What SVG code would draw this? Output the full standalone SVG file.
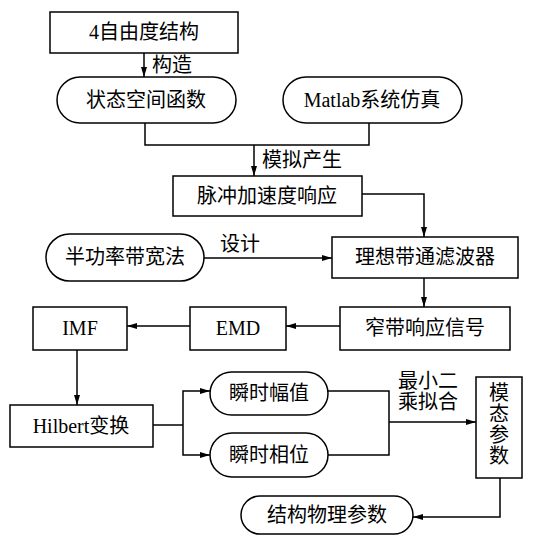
<svg xmlns="http://www.w3.org/2000/svg" width="539" height="536" viewBox="0 0 539 536">
<style>
.n{fill:#fff;stroke:#000;stroke-width:1.5}
.t{font-family:"Liberation Serif","Noto Sans CJK SC",serif;font-size:20px;fill:#000;text-anchor:middle}
.l{font-family:"Liberation Serif","Noto Sans CJK SC",serif;font-size:20px;fill:#000}
.c{fill:none;stroke:#000;stroke-width:1.5}
</style>
<defs>
<marker id="a" viewBox="0 0 10 6" refX="10" refY="3" markerWidth="10" markerHeight="6" markerUnits="userSpaceOnUse" orient="auto">
<path d="M0,0L10,3L0,6z" fill="#000"/>
</marker>
</defs>
<rect width="539" height="536" fill="#fff"/>
<g id="connectors">
<path class="c" d="M144,53V77" marker-end="url(#a)"/>
<path class="c" d="M145,123V145H369V123"/>
<path class="c" d="M254,145V176" marker-end="url(#a)"/>
<path class="c" d="M362,194H424V237" marker-end="url(#a)"/>
<path class="c" d="M204,258H332" marker-end="url(#a)"/>
<path class="c" d="M424,278V307" marker-end="url(#a)"/>
<path class="c" d="M340,326H286" marker-end="url(#a)"/>
<path class="c" d="M190,326H127" marker-end="url(#a)"/>
<path class="c" d="M77,350V405" marker-end="url(#a)"/>
<path class="c" d="M153,425H183"/>
<path class="c" d="M183,425V391H210" marker-end="url(#a)"/>
<path class="c" d="M183,425V455H210" marker-end="url(#a)"/>
<path class="c" d="M328,391H389V455H328"/>
<path class="c" d="M389,422H476" marker-end="url(#a)"/>
<path class="c" d="M500,478V517H413" marker-end="url(#a)"/>
<text class="l" x="152" y="72">构造</text>
<text class="l" x="262" y="167">模拟产生</text>
<text class="l" x="220" y="251">设计</text>
<text class="l" x="398" y="388">最小二</text>
<text class="l" x="398" y="409">乘拟合</text>
</g>
<g id="n1"><rect class="n" x="50" y="12" width="188" height="41"/><text class="t" x="144" y="39">4自由度结构</text></g>
<g id="n2"><rect class="n" x="57" y="77" width="179" height="46" rx="23"/><text class="t" x="146" y="107">状态空间函数</text></g>
<g id="n3"><rect class="n" x="283" y="77" width="179" height="46" rx="23"/><text class="t" x="372" y="107">Matlab系统仿真</text></g>
<g id="n4"><rect class="n" x="173" y="176" width="189" height="40"/><text class="t" x="267" y="203">脉冲加速度响应</text></g>
<g id="n5"><rect class="n" x="46" y="234" width="158" height="47" rx="23.5"/><text class="t" x="125" y="264">半功率带宽法</text></g>
<g id="n6"><rect class="n" x="332" y="237" width="186" height="41"/><text class="t" x="425" y="264">理想带通滤波器</text></g>
<g id="n7"><rect class="n" x="340" y="307" width="170" height="43"/><text class="t" x="425" y="335">窄带响应信号</text></g>
<g id="n8"><rect class="n" x="190" y="307" width="96" height="43"/><text class="t" x="238" y="335">EMD</text></g>
<g id="n9"><rect class="n" x="33" y="307" width="94" height="43"/><text class="t" x="80" y="335">IMF</text></g>
<g id="n10"><rect class="n" x="10" y="405" width="143" height="42"/><text class="t" x="81" y="433">Hilbert变换</text></g>
<g id="n11"><rect class="n" x="210" y="372" width="118" height="43" rx="21.5"/><text class="t" x="269" y="400">瞬时幅值</text></g>
<g id="n12"><rect class="n" x="210" y="433" width="118" height="44" rx="22"/><text class="t" x="269" y="462">瞬时相位</text></g>
<g id="n13"><rect class="n" x="476" y="377" width="46" height="101"/>
<text class="t" x="499" y="400">模</text><text class="t" x="499" y="421">态</text><text class="t" x="499" y="442">参</text><text class="t" x="499" y="463">数</text></g>
<g id="n14"><rect class="n" x="241" y="496" width="172" height="38" rx="19"/><text class="t" x="327" y="522">结构物理参数</text></g>
</svg>
